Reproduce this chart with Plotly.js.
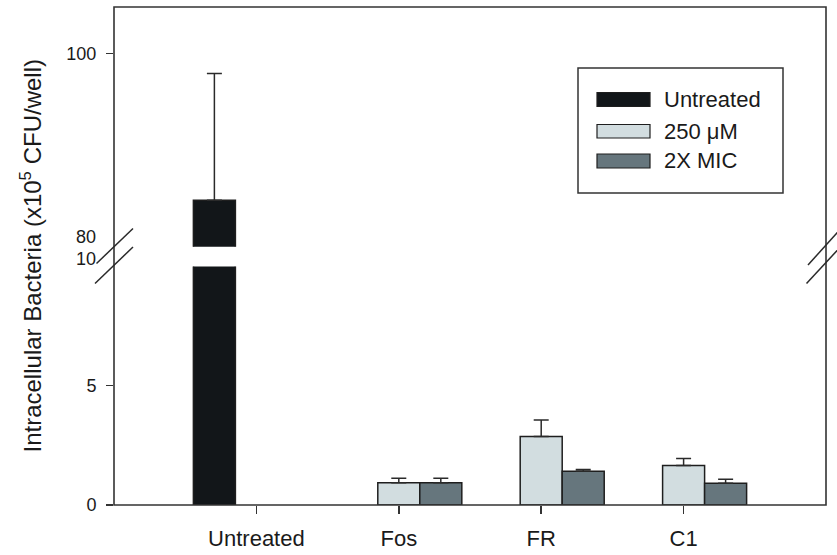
<!DOCTYPE html>
<html>
<head>
<meta charset="utf-8">
<script src="https://cdn.plot.ly/plotly-3.0.1.min.js"></script>
<style>html,body{margin:0;padding:0;background:#fff;}#chart{width:837px;height:555px;}</style>
</head>
<body>
<div id="chart"></div>
<script>
// ---- data ----
const categories = ['Untreated', 'Fos', 'FR', 'C1'];
const seriesNames = ['Untreated', '250 \u03bcM', '2X MIC'];
const untreatedVals = [84.8, null, null, null];
const untreatedErr = [13.1, null, null, null];
const uM250Vals = [null, 0.93, 2.87, 1.66];
const uM250Err = [null, 0.19, 0.69, 0.29];
const mic2xVals = [null, 0.93, 1.41, 0.91];
const mic2xErr = [null, 0.19, 0.08, 0.17];
const lowerTicks = [0, 5];
const upperTicks = [100];
const breakLabels = ['80', '10'];

const colors = ['#121619', '#d2dde0', '#66767d'];
const outline = '#1e1e1e';

// figure geometry (pixels)
const W = 837, H = 555, L = 114, R = 826, T = 7, B = 505;
const px = x => (x - L) / (R - L);
const py = y => (B - y) / (B - T);

const values = [untreatedVals, uM250Vals, mic2xVals];
const errs = [untreatedErr, uM250Err, mic2xErr];

const traces = [];
['y', 'y2'].forEach(ya => {
  values.forEach((v, i) => {
    traces.push({
      type: 'bar', x: categories, y: v, name: seriesNames[i],
      xaxis: 'x', yaxis: ya, showlegend: false, hoverinfo: 'skip',
      marker: {color: colors[i], line: {color: outline, width: 1.5}},
      error_y: {type: 'data', symmetric: false, array: errs[i],
        arrayminus: errs[i].map(e => e == null ? null : 0),
        color: '#2a2a2a', thickness: 1.5, width: 7.5, visible: true}
    });
  });
});

const lineStyle = {color: '#2a2a2a', width: 1.5};
const shapes = [
  {type: 'rect', xref: 'paper', yref: 'paper', x0: 0, x1: 1, y0: 0, y1: 1, line: {color: '#333', width: 1.6}, layer: 'above'},
  // break marks left
  {type: 'line', xref: 'paper', yref: 'paper', x0: px(133), y0: py(228.5), x1: px(96.5), y1: py(263.5), line: lineStyle},
  {type: 'line', xref: 'paper', yref: 'paper', x0: px(133), y0: py(247), x1: px(95), y1: py(283.5), line: lineStyle},
  // break marks right
  {type: 'line', xref: 'paper', yref: 'paper', x0: px(845), y0: py(224), x1: px(808), y1: py(265), line: lineStyle},
  {type: 'line', xref: 'paper', yref: 'paper', x0: px(845), y0: py(242), x1: px(806.5), y1: py(283.5), line: lineStyle},
  // legend box
  {type: 'rect', xref: 'paper', yref: 'paper', x0: px(578), x1: px(783), y0: py(68), y1: py(193), line: {color: '#333', width: 1.5}, fillcolor: '#fff', layer: 'above'}
];
const swatchY = [[92.5, 106.5], [124.5, 138], [154, 168]];
const textY = [99.5, 131.5, 160.5];
const annotations = [];
seriesNames.forEach((n, i) => {
  shapes.push({type: 'rect', xref: 'paper', yref: 'paper', x0: px(597), x1: px(650),
    y0: py(swatchY[i][1]), y1: py(swatchY[i][0]), fillcolor: colors[i], line: {color: outline, width: 1.2}, layer: 'above'});
  annotations.push({xref: 'paper', yref: 'paper', x: px(662), y: py(textY[i]), xanchor: 'left', yanchor: 'middle',
    text: n, showarrow: false, font: {family: 'Liberation Sans, Arial, sans-serif', size: 22, color: '#1a1a1a'}});
});
// break labels
annotations.push({xref: 'paper', yref: 'paper', x: px(97.5), y: py(237), xanchor: 'right', yanchor: 'middle',
  text: breakLabels[0], showarrow: false, font: {family: 'Liberation Sans, Arial, sans-serif', size: 18, color: '#1a1a1a'}});
annotations.push({xref: 'paper', yref: 'paper', x: px(97.5), y: py(259), xanchor: 'right', yanchor: 'middle',
  text: breakLabels[1], showarrow: false, font: {family: 'Liberation Sans, Arial, sans-serif', size: 18, color: '#1a1a1a'}});
// y title
annotations.push({xref: 'paper', yref: 'paper', x: px(30), y: py(256.5), xanchor: 'center', yanchor: 'middle', textangle: -90,
  text: 'Intracellular Bacteria (x10<sup>5</sup> CFU/well)', showarrow: false,
  font: {family: 'Liberation Sans, Arial, sans-serif', size: 24, color: '#1a1a1a'}});

const yTickCommon = {showline: false, showgrid: false, zeroline: false, ticks: 'outside', ticklen: 7,
  tickwidth: 1.5, tickcolor: '#333', ticklabelstandoff: 6, fixedrange: true,
  tickfont: {family: 'Liberation Sans, Arial, sans-serif', size: 18, color: '#1a1a1a'}};

const layout = {
  width: W, height: H,
  margin: {l: L, r: W - R, t: T, b: H - B},
  paper_bgcolor: '#fff', plot_bgcolor: '#fff',
  barmode: 'group', bargap: 0.115, bargroupgap: 0,
  showlegend: false,
  xaxis: {type: 'category', range: [-1, 4], showline: false, showgrid: false, zeroline: false,
    ticks: 'outside', ticklen: 8, tickwidth: 1.5, tickcolor: '#333', anchor: 'y',
    tickfont: {family: 'Liberation Sans, Arial, sans-serif', size: 22, color: '#1a1a1a'}, ticklabelstandoff: 6},
  yaxis: Object.assign({domain: [0, py(266.4)], range: [0, 10], tickvals: lowerTicks, ticktext: lowerTicks.map(String)}, yTickCommon),
  yaxis2: Object.assign({domain: [py(246.7), 1], range: [80, 104.79], tickvals: upperTicks, ticktext: upperTicks.map(String), anchor: 'x'}, yTickCommon),
  shapes: shapes,
  annotations: annotations
};

Plotly.newPlot('chart', traces, layout, {displayModeBar: false, staticPlot: true});
</script>
</body>
</html>
